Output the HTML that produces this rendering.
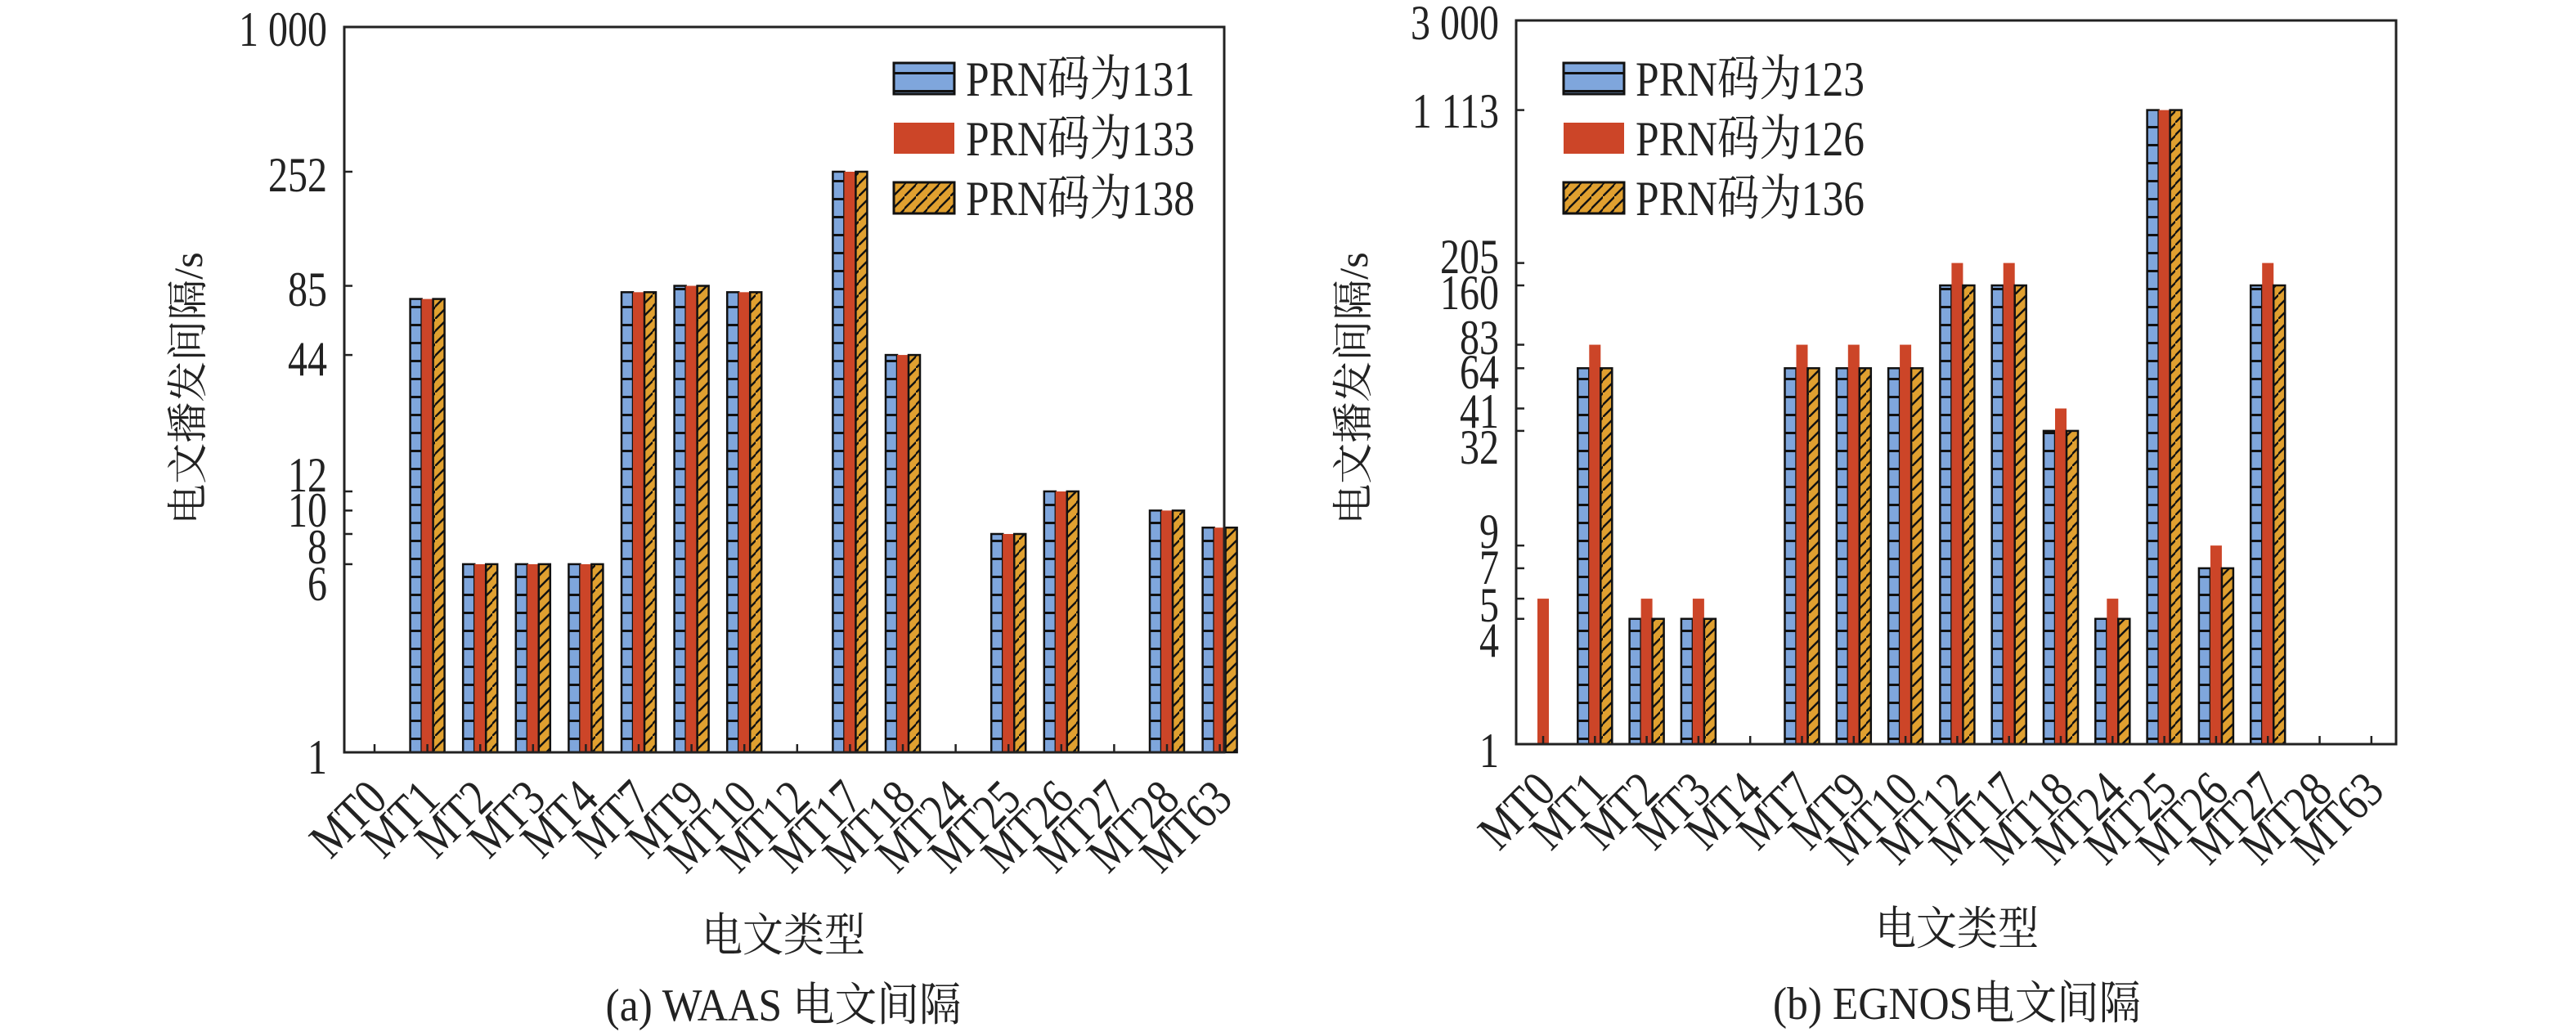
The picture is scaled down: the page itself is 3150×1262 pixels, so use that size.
<!DOCTYPE html>
<html><head><meta charset="utf-8"><style>
html,body{margin:0;padding:0;background:#fff;}
svg{display:block;font-family:"Liberation Serif","Noto Serif CJK SC","Noto Sans CJK SC",serif;}
</style></head><body>
<svg id="c" width="3150" height="1262" viewBox="0 0 3150 1262" xmlns="http://www.w3.org/2000/svg">
<defs>
<pattern id="pBlue" patternUnits="userSpaceOnUse" width="14" height="22"><rect width="14" height="22" fill="#7fa6dc"/><rect y="0" width="14" height="3" fill="#111"/></pattern>
<pattern id="pOrg" patternUnits="userSpaceOnUse" width="14" height="30"><rect width="14" height="30" fill="#e0a030"/><path d="M-2,32 L16,14 M-2,17 L16,-1" stroke="#111" stroke-width="2.5"/></pattern>
</defs>
</svg>
<script>
const catsA=["MT0","MT1","MT2","MT3","MT4","MT7","MT9","MT10","MT12","MT17","MT18","MT24","MT25","MT26","MT27","MT28","MT63"];
const waas131=[null,75,6,6,6,80,85,80,null,252,44,null,8,12,null,10,8.5];
const waas133=[null,75,6,6,6,80,85,80,null,252,44,null,8,12,null,10,8.5];
const waas138=[null,75,6,6,6,80,85,80,null,252,44,null,8,12,null,10,8.5];
const catsB=["MT0","MT1","MT2","MT3","MT4","MT7","MT9","MT10","MT12","MT17","MT18","MT24","MT25","MT26","MT27","MT28","MT63"];
const egn123=[null,64,4,4,null,64,64,64,160,160,32,4,1113,7,160,null,null];
const egn126=[5,83,5,5,null,83,83,83,205,205,41,5,1113,9,205,null,null];
const egn136=[null,64,4,4,null,64,64,64,160,160,32,4,1113,7,160,null,null];
const ticksA=[1000,252,85,44,12,10,8,6,1];
const tickLabA=["1 000","252","85","44","12","10","8","6","1"];
const ticksB=[3000,1113,205,160,83,64,41,32,9,7,5,4,1];
const tickLabB=["3 000","1 113","205","160","83","64","41","32","9","7","5","4","1"];
const NS="http://www.w3.org/2000/svg";
const svg=document.getElementById('c');
function mk(t,a,p){const e=document.createElementNS(NS,t);for(const k in a)e.setAttribute(k,a[k]);(p||svg).appendChild(e);return e;}
function condense(t,f){const w=t.getComputedTextLength();if(w>0){t.setAttribute('textLength',(w*f).toFixed(1));t.setAttribute('lengthAdjust','spacingAndGlyphs');}}
function chart(o){
  const g=mk('g',{});
  
  
  const y=v=>o.bottom-(Math.log10(v)/Math.log10(o.max))*(o.bottom-o.top);
  const x=i=>o.x0+i*o.step;
  const series=[[o.s1,'url(#pBlue)',-21,true],[o.s2,'#cc4528',-7,false],[o.s3,'url(#pOrg)',7,true]];
  series.forEach((s,si)=>{
    s[0].forEach((v,i)=>{
      if(v==null)return;
      const r=mk('rect',{x:x(i)+s[2],y:y(v),width:14,height:o.bottom-y(v),fill:s[1],stroke:s[3]?'#111':'none','stroke-width':2.5},g);
      
      
    });
  });
  const frame=mk('rect',{x:o.left,y:o.top,width:o.right-o.left,height:o.bottom-o.top,fill:'none',stroke:'#222','stroke-width':3},g);
  
  
  o.cats.forEach((c,i)=>{
    mk('line',{x1:x(i),x2:x(i),y1:o.bottom,y2:o.bottom-10,stroke:'#222','stroke-width':2.5},g);
    const ax=x(i)+18, ay=o.bottom+60;
    const t=mk('text',{x:ax,y:ay,'text-anchor':'end','font-size':62,fill:'#222',transform:`rotate(-45 ${ax} ${ay})`},g);
    t.textContent=c;
    
    
    condense(t,0.82);
  });
  o.ticks.forEach((v,i)=>{
    mk('line',{x1:o.left,x2:o.left+10,y1:y(v),y2:y(v),stroke:'#222','stroke-width':2.5},g);
    const t=mk('text',{x:o.labX,y:o.labY[i],'text-anchor':'end','dominant-baseline':'central','font-size':60,fill:'#222'},g);
    t.textContent=o.tlab[i];
    
    
    condense(t,0.8);
  });
  const fills=['url(#pBlue)','#cc4528','url(#pOrg)'];
  o.leg.forEach((l,i)=>{
    const cy=97+i*73;
    const e=mk('g',{},g);
    
    
    mk('rect',{x:o.legX,y:cy-20,width:74,height:38,fill:fills[i],stroke:i==1?'none':'#111','stroke-width':3},e);
    const t=mk('text',{x:o.legX+88,y:cy,'dominant-baseline':'central','font-size':60,fill:'#222',textLength:280,lengthAdjust:'spacingAndGlyphs'},e);
    t.textContent=l;
  });
  const yt=mk('text',{x:o.ytX,y:o.ytY,'text-anchor':'middle','dominant-baseline':'central','font-size':50,fill:'#222',transform:`rotate(-90 ${o.ytX} ${o.ytY})`},g);
  yt.textContent='电文播发间隔/s';
  
  
  const xt=mk('text',{x:o.cx,y:o.xtY,'text-anchor':'middle','dominant-baseline':'central','font-size':56,fill:'#222',textLength:200,lengthAdjust:'spacingAndGlyphs'},g);
  xt.textContent='电文类型';
  
  
  const cp=mk('text',{x:o.cx,y:o.capY,'text-anchor':'middle','dominant-baseline':'central','font-size':56,fill:'#222',textLength:o.capW,lengthAdjust:'spacingAndGlyphs'},g);
  cp.textContent=o.cap;
  
  
}
chart({name:'waas-chart',cats:catsA,s1:waas131,s2:waas133,s3:waas138,leg:['PRN码为131','PRN码为133','PRN码为138'],
  left:421,right:1497,top:33,bottom:920,max:1000,x0:458,step:64.6,
  ticks:ticksA,tlab:tickLabA,labX:400,labY:[36,214,354,439,581,624,669,714,926],
  legX:1093,ytX:230,ytY:475,cx:958,xtY:1145,capY:1230,capW:435,cap:'(a) WAAS 电文间隔'});
chart({name:'egnos-chart',cats:catsB,s1:egn123,s2:egn126,s3:egn136,leg:['PRN码为123','PRN码为126','PRN码为136'],
  left:1854,right:2930,top:25,bottom:910,max:3000,x0:1887,step:63.3,
  ticks:ticksB,tlab:tickLabB,labX:1833,labY:[28,136,314,358,413,455,503,547,650,694,740,783,918],
  legX:1912,ytX:1655,ytY:475,cx:2393,xtY:1137,capY:1228,capW:450,cap:'(b) EGNOS电文间隔'});
</script>
</body></html>
